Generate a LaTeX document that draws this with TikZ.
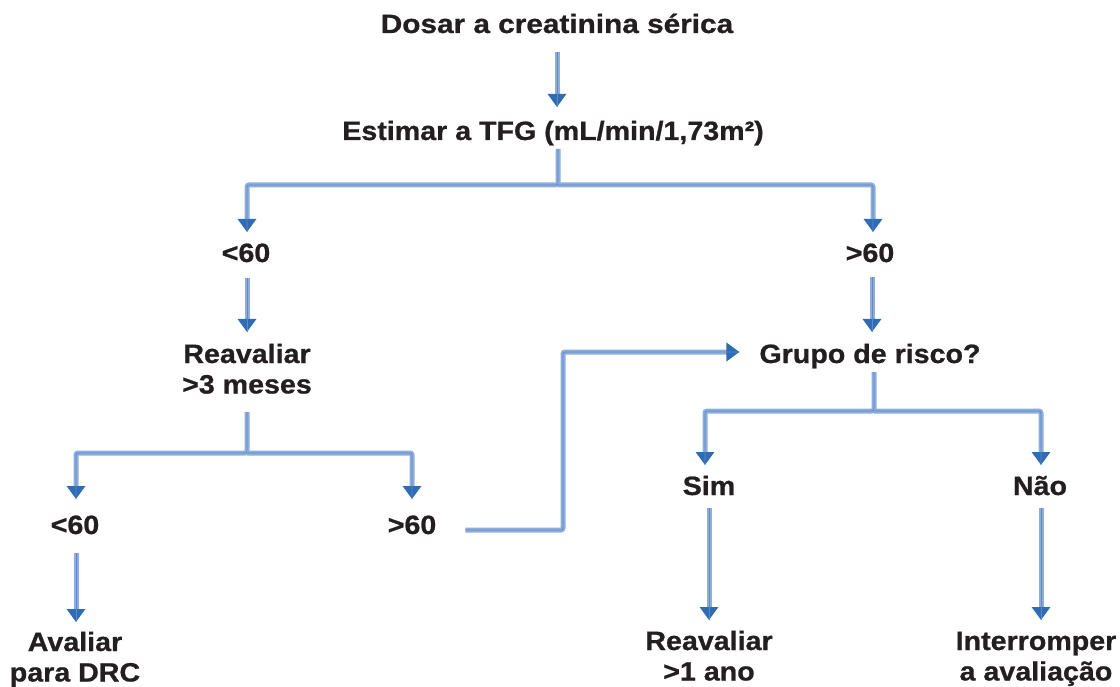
\documentclass[tikz,border=0pt]{standalone}
\usepackage{fontspec}
\setmainfont{Liberation Sans}[FakeStretch=1.08, BoldFeatures={FakeBold=0.8}]
\usetikzlibrary{arrows.meta}
\definecolor{lineblue}{RGB}{141,174,220}
\definecolor{linemid}{RGB}{96,136,200}
\definecolor{tipblue}{RGB}{46,108,180}
\definecolor{txt}{RGB}{35,31,32}
\begin{document}
\begin{tikzpicture}[x=1pt,y=-1pt,
  lbl/.style={font=\fontsize{26.5}{30.5}\selectfont\bfseries, text=txt, inner sep=0pt, outer sep=0pt, text height=19pt, text depth=0pt, anchor=base},
  lbltwo/.style={lbl, text depth=31pt},
  conn/.style={draw=lineblue, line width=5pt, rounded corners=2pt, -{Triangle[width=18pt,length=13pt,color=tipblue]}, postaction={draw=linemid, line width=0.8pt, -}}]
\useasboundingbox (0,0) rectangle (1120,687);
\node[lbl, xscale=1.04] (dosar) at (557,33) {Dosar a creatinina sérica};
\node[lbl] (tfg) at (553,140) {Estimar a TFG (mL/min/1,73m²)};
\node[lbl] (lt1) at (246,262) {<60};
\node[lbl] (gt1) at (870,262) {>60};
\node[lbltwo] (reav3) at (247,363) {\begin{tabular}[t]{@{}c@{}}Reavaliar\\>3 meses\end{tabular}};
\node[lbl] (grupo) at (870,363) {Grupo de risco?};
\node[lbl] (lt2) at (75,534) {<60};
\node[lbl] (gt2) at (412,534) {>60};
\node[lbl] (sim) at (709,495) {Sim};
\node[lbl] (nao) at (1040,495) {Não};
\node[lbltwo] (aval) at (75,651) {\begin{tabular}[t]{@{}c@{}}Avaliar\\para DRC\end{tabular}};
\node[lbltwo] (reav1) at (709,650) {\begin{tabular}[t]{@{}c@{}}Reavaliar\\>1 ano\end{tabular}};
\node[lbltwo] (interr) at (1036,650) {\begin{tabular}[t]{@{}c@{}}Interromper\\a avaliação\end{tabular}};
\coordinate (j1) at (558,185);
\coordinate (j2) at (247,453);
\coordinate (j3) at (563,352);
\coordinate (j4) at (874,411);
\draw[conn] ([yshift=-19pt]dosar.south) -- ([yshift=14pt]dosar.south |- tfg.north);
\draw[conn] ([xshift=5pt,yshift=-9pt]tfg.south) -- (j1) -| ([xshift=1pt,yshift=11pt]lt1.north);
\draw[conn] (j1) -| ([xshift=3pt,yshift=11pt]gt1.north);
\draw[conn] ([xshift=1pt,yshift=-16pt]lt1.south) -- ([yshift=12pt]reav3.north);
\draw[conn] ([xshift=2pt,yshift=-15pt]gt1.south) -- ([xshift=2pt,yshift=12pt]grupo.north);
\draw[conn] ([yshift=-18pt]reav3.south) -- (j2) -| ([xshift=1pt,yshift=16pt]lt2.north);
\draw[conn] (j2) -| ([yshift=16pt]gt2.north);
\draw[conn] ([xshift=1pt,yshift=-19pt]lt2.south) -- ([xshift=1pt,yshift=10pt]lt2.south |- aval.north);
\draw[conn] ([xshift=29pt,yshift=4pt]gt2.base east) -| (j3) -- ([xshift=-20pt]j3 -| grupo.west);
\draw[conn] ([xshift=4pt,yshift=-9pt]grupo.south) -- (j4) -| ([xshift=-4pt,yshift=11pt]sim.north);
\draw[conn] (j4) -| ([xshift=1pt,yshift=11pt]nao.north);
\draw[conn] ([yshift=-13pt]sim.south) -- ([yshift=11pt]sim.south |- reav1.north);
\draw[conn] ([xshift=1pt,yshift=-13pt]nao.south) -- ([xshift=1pt,yshift=11pt]nao.south |- interr.north);
\end{tikzpicture}
\end{document}
